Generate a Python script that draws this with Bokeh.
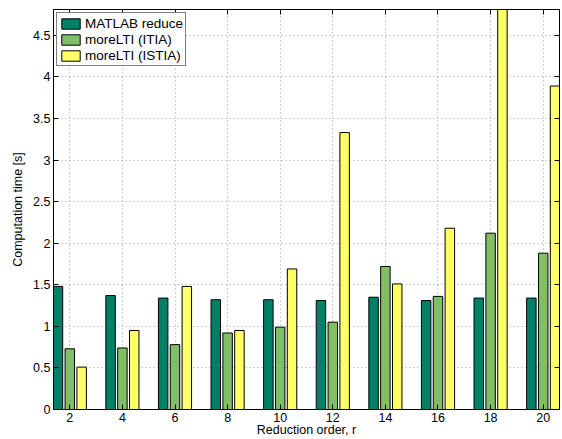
from bokeh.plotting import figure
from bokeh.models import ColumnDataSource, Range1d, FixedTicker, LinearAxis, Legend, LegendItem, CustomJSTickFormatter
from bokeh.transform import dodge
from bokeh.embed import file_html
from bokeh.resources import INLINE

orders = [2, 4, 6, 8, 10, 12, 14, 16, 18, 20]
matlab_reduce = [1.48, 1.37, 1.34, 1.32, 1.32, 1.31, 1.35, 1.31, 1.34, 1.34]
moreLTI_ITIA = [0.73, 0.74, 0.78, 0.92, 0.99, 1.05, 1.72, 1.36, 2.12, 1.88]
moreLTI_ISTIA = [0.51, 0.95, 1.48, 0.95, 1.69, 3.33, 1.51, 2.18, 5.60, 3.89]
series_names = ["MATLAB reduce", "moreLTI (ITIA)", "moreLTI (ISTIA)"]
series_colors = ["#008066", "#80BF66", "#FFFF66"]
y_ticks = [0, 0.5, 1, 1.5, 2, 2.5, 3, 3.5, 4, 4.5]
y_tick_labels = ["0", "0.5", "1", "1.5", "2", "2.5", "3", "3.5", "4", "4.5"]

src = ColumnDataSource(dict(r=orders, a=matlab_reduce, b=moreLTI_ITIA, c=moreLTI_ISTIA))

FONT = "Liberation Sans"

p = figure(width=562, height=439, output_backend="svg", toolbar_location=None,
           x_range=Range1d(1.38, 20.62), y_range=Range1d(0, 4.81),
           min_border_left=53, min_border_right=3, min_border_top=9, min_border_bottom=30)
p.background_fill_color = "white"
p.border_fill_color = "white"
p.outline_line_color = "black"
p.outline_line_width = 1

offsets = [-0.45, 0.0, 0.45]
cols = ["a", "b", "c"]
renderers = []
for col, off, color in zip(cols, offsets, series_colors):
    r = p.vbar(x=dodge("r", off), top=col, width=0.36, bottom=0, source=src,
               fill_color=color, line_color="black", line_width=1)
    renderers.append(r)

# axes
p.xaxis.ticker = FixedTicker(ticks=orders)
p.yaxis.ticker = FixedTicker(ticks=y_ticks)
p.yaxis.major_label_overrides = {t: l for t, l in zip(y_ticks, y_tick_labels)}
for ax in (p.xaxis[0], p.yaxis[0]):
    ax.axis_line_color = "black"
    ax.major_tick_line_color = "black"
    ax.major_tick_in = 5
    ax.major_tick_out = 0
    ax.minor_tick_line_color = None
    ax.major_label_text_font = FONT
    ax.major_label_text_font_size = "12.5px"
    ax.major_label_text_color = "black"
    ax.axis_label_text_font = FONT
    ax.axis_label_text_font_size = "12.5px"
    ax.axis_label_text_font_style = "normal"
    ax.axis_label_text_color = "black"
p.xaxis.axis_label = "Reduction order, r"
p.yaxis.axis_label = "Computation time [s]"
p.xaxis.major_label_standoff = 3
p.xaxis.axis_label_standoff = -2
p.yaxis.major_label_standoff = 3
p.yaxis.axis_label_standoff = 5

# mirrored ticks on top and right
blank = CustomJSTickFormatter(code="return ''")
top_ax = LinearAxis(ticker=FixedTicker(ticks=orders), formatter=blank,
                    major_tick_in=5, major_tick_out=0, minor_tick_line_color=None,
                    major_label_text_font_size="0px", major_label_standoff=0,
                    axis_line_color="black")
right_ax = LinearAxis(ticker=FixedTicker(ticks=y_ticks), formatter=blank,
                      major_tick_in=5, major_tick_out=0, minor_tick_line_color=None,
                      major_label_text_font_size="0px", major_label_standoff=0,
                      axis_line_color="black")
p.add_layout(top_ax, "above")
p.add_layout(right_ax, "right")

# grid
for g in (p.xgrid[0], p.ygrid[0]):
    g.grid_line_color = "#a0a0a0"
    g.grid_line_dash = "1 3"
    g.grid_line_width = 1

legend = Legend(items=[LegendItem(label=n, renderers=[r]) for n, r in zip(series_names, renderers)],
                location="top_left")
legend.margin = 3
legend.padding = 2
legend.spacing = 0
legend.glyph_width = 23
legend.glyph_height = 13
legend.label_height = 16
legend.label_standoff = 3
legend.label_text_font = FONT
legend.label_text_font_size = "13.5px"
legend.label_text_color = "black"
legend.border_line_color = "black"
legend.border_line_width = 1.5
legend.background_fill_color = "white"
legend.background_fill_alpha = 1
p.add_layout(legend, "center")

open("out.html", "w").write(file_html(p, INLINE))
